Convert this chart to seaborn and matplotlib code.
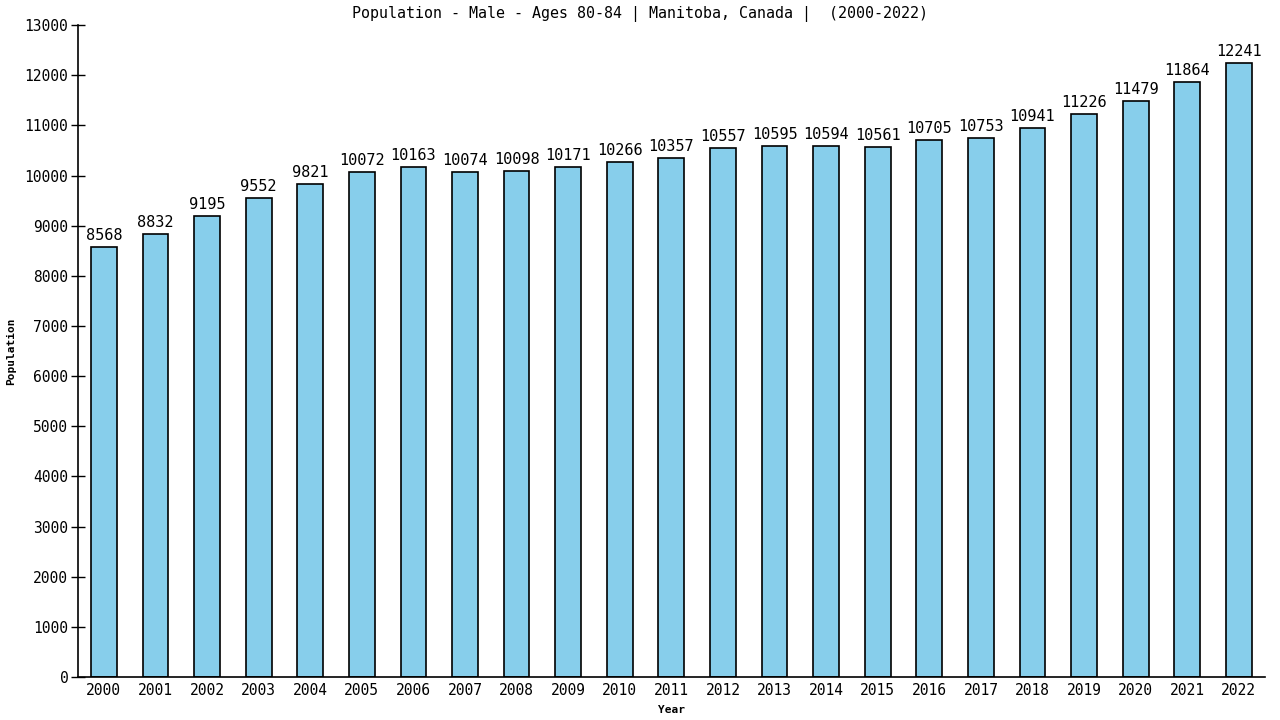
import matplotlib
matplotlib.use("Agg")
import matplotlib.pyplot as plt
import seaborn as sns
import pandas as pd

years = [str(y) for y in range(2000, 2023)]
population = [8568, 8832, 9195, 9552, 9821, 10072, 10163, 10074, 10098, 10171,
              10266, 10357, 10557, 10595, 10594, 10561, 10705, 10753, 10941,
              11226, 11479, 11864, 12241]

sns.set_style("white")
plt.rcParams["font.family"] = ["DejaVu Sans Mono", "DejaVu Sans"]
plt.rcParams["text.color"] = "black"
plt.rcParams["axes.labelcolor"] = "black"
plt.rcParams["xtick.color"] = "black"
plt.rcParams["ytick.color"] = "black"

df = pd.DataFrame({"Year": years, "Population": population})

fig = plt.figure(figsize=(12.8, 7.2), dpi=100)
ax = fig.add_axes([0.061, 0.0597, 0.927, 0.9055])

sns.barplot(data=df, x="Year", y="Population", color="#87ceeb", width=0.5,
            edgecolor="black", linewidth=1.2, saturation=1, ax=ax)

for i, v in enumerate(population):
    ax.text(i, v + 80, str(v), ha="center", va="bottom", fontsize=11,
            color="black")

ax.set_xlim(-0.5, 22.5)
ax.set_ylim(0, 13000)
ax.set_yticks(range(0, 13001, 1000))
ax.tick_params(axis="y", left=True, direction="inout", length=10, width=1,
               labelsize=10.5, pad=2)
ax.tick_params(axis="x", bottom=False, labelsize=10.5, pad=1)
for s in ["top", "right"]:
    ax.spines[s].set_visible(False)
for s in ["left", "bottom"]:
    ax.spines[s].set_color("black")
    ax.spines[s].set_linewidth(1.2)

ax.set_xlabel("Year", fontsize=8, fontweight="bold", labelpad=5)
ax.set_ylabel("Population", fontsize=8, fontweight="bold", labelpad=6)
fig.suptitle("Population - Male - Ages 80-84 | Manitoba, Canada |  (2000-2022)",
             fontsize=10.8, y=0.992)

fig.savefig("out.png", dpi=100)
